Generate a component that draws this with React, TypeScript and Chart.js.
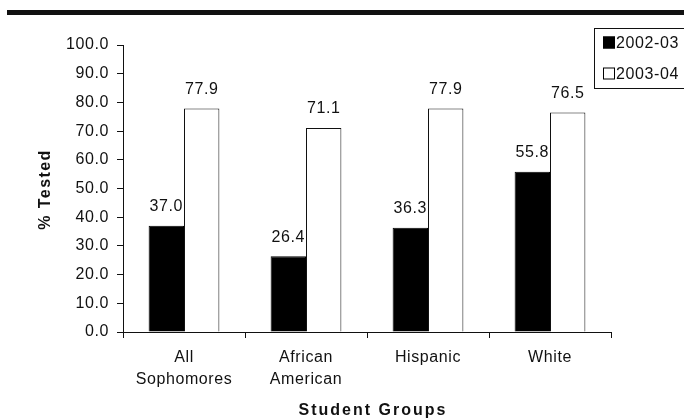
import React, { useEffect, useRef } from "react";
import { Chart, registerables } from "chart.js";

Chart.register(...registerables);

const categories: string[][] = [["All", "Sophomores"], ["African", "American"], ["Hispanic"], ["White"]];
const seriesNames = ["2002-03", "2003-04"];
const values2002 = [37.0, 26.4, 36.3, 55.8];
const values2003 = [77.9, 71.1, 77.9, 76.5];
const yTicks = [0, 10, 20, 30, 40, 50, 60, 70, 80, 90, 100];
const yTitle = "% Tested";
const xTitle = "Student Groups";

const FONT = "Arial, 'Liberation Sans', sans-serif";

const decorPlugin = {
  id: "decor",
  beforeDraw(chart: any) {
    const ctx = chart.ctx;
    ctx.fillStyle = "#111";
    ctx.fillRect(7, 10, chart.width - 7, 5);
    ctx.letterSpacing = "0.6px";
  },
  afterDraw(chart: any) {
    const ctx = chart.ctx;
    const area = chart.chartArea;
    ctx.save();
    ctx.letterSpacing = "0.6px";
    // data labels
    ctx.fillStyle = "#111";
    ctx.font = `16px ${FONT}`;
    ctx.textAlign = "center";
    ctx.textBaseline = "middle";
    chart.data.datasets.forEach((ds: any, di: number) => {
      const meta = chart.getDatasetMeta(di);
      meta.data.forEach((el: any, i: number) => {
        ctx.fillText(Number(ds.data[i]).toFixed(1), el.x, el.y - 19);
      });
    });
    // axis titles
    ctx.font = `bold 16px ${FONT}`;
    ctx.letterSpacing = "2px";
    ctx.fillText(xTitle, (area.left + area.right) / 2 + 6, 411);
    ctx.save();
    ctx.letterSpacing = "1.4px";
    ctx.translate(46, (area.top + area.bottom) / 2 + 1);
    ctx.rotate(-Math.PI / 2);
    ctx.fillText(yTitle, 0, 0);
    ctx.restore();
    // legend
    ctx.letterSpacing = "0.6px";
    ctx.strokeStyle = "#111";
    ctx.lineWidth = 1;
    ctx.strokeRect(594.5, 28.5, 120, 60);
    const items = [
      { y: 42.5, fill: "#000" },
      { y: 73.5, fill: "#fff" },
    ];
    ctx.font = `16px ${FONT}`;
    ctx.textAlign = "left";
    items.forEach((it, i) => {
      ctx.fillStyle = it.fill;
      ctx.fillRect(603, it.y - 6, 12, 12);
      ctx.strokeStyle = "#000";
      ctx.strokeRect(603.5, it.y - 5.5, 11, 11);
      ctx.fillStyle = "#111";
      ctx.fillText(seriesNames[i], 616, it.y + 1);
    });
    ctx.restore();
  },
};

export default function App() {
  const ref = useRef<HTMLCanvasElement | null>(null);
  useEffect(() => {
    document.body.style.margin = "0";
    const canvas = ref.current!;
    const chart = new Chart(canvas, {
      type: "bar",
      data: {
        labels: categories as any,
        datasets: [
          {
            label: seriesNames[0],
            data: values2002,
            backgroundColor: "#000",
            borderColor: "#000",
            borderWidth: 1,
            categoryPercentage: 0.58,
            barPercentage: 1,
          },
          {
            label: seriesNames[1],
            data: values2003,
            backgroundColor: "#fff",
            borderColor: "#111",
            borderWidth: 1,
            categoryPercentage: 0.58,
            barPercentage: 1,
          },
        ],
      },
      options: {
        responsive: false,
        animation: false,
        devicePixelRatio: 1,
        layout: { padding: { top: 45, right: 73, left: 0, bottom: 0 } },
        plugins: { legend: { display: false }, tooltip: { enabled: false } },
        scales: {
          x: {
            offset: true,
            grid: { display: true, drawOnChartArea: false, offset: true, tickLength: 6, color: "#111" },
            border: { display: true, color: "#111", width: 1 },
            ticks: { color: "#111", font: { family: FONT, size: 16, lineHeight: 1.375 }, padding: 9, maxRotation: 0, autoSkip: false },
            afterFit: (s: any) => { s.height = 87; },
          },
          y: {
            min: 0,
            max: 100,
            afterBuildTicks: (s: any) => { s.ticks = yTicks.map((v) => ({ value: v })); },
            grid: { display: true, drawOnChartArea: false, tickLength: 6, color: "#111" },
            border: { display: true, color: "#111", width: 1 },
            ticks: {
              color: "#111",
              font: { family: FONT, size: 16 },
              padding: 8,
              callback: (v: any) => Number(v).toFixed(1),
            },
            afterFit: (s: any) => { s.width = 123; },
          },
        },
      },
      plugins: [decorPlugin],
    });
    return () => chart.destroy();
  }, []);
  return <canvas ref={ref} width={684} height={419} style={{ display: "block" }} />;
}
